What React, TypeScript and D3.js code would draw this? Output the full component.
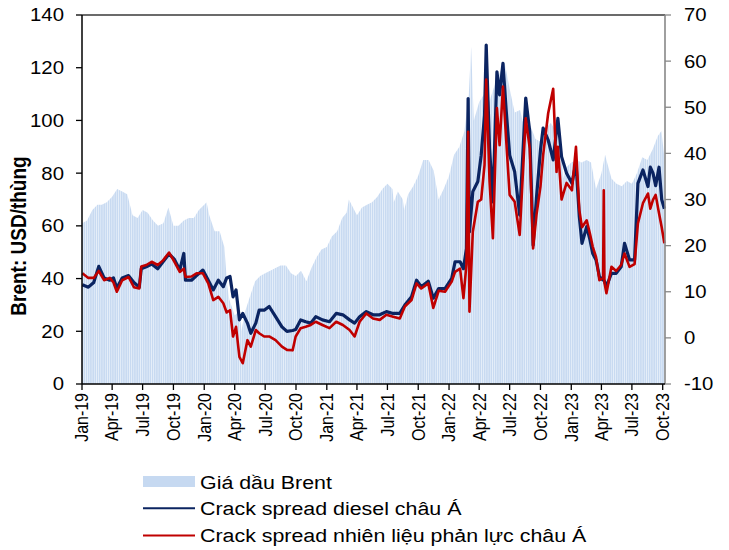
import React from 'react';
import * as d3 from 'd3';

// ---- DATA ----
const brentDates = [
  '2019-01-01','2019-01-16','2019-02-01','2019-02-16','2019-03-01','2019-03-16','2019-04-01','2019-04-16','2019-05-01','2019-05-16','2019-06-01','2019-06-16','2019-07-01','2019-07-16','2019-08-01','2019-08-16','2019-09-01','2019-09-16','2019-10-01','2019-10-16','2019-11-01','2019-11-16','2019-12-01','2019-12-16',
  '2020-01-01','2020-01-08','2020-01-16','2020-02-01','2020-02-16','2020-03-01','2020-03-10','2020-03-16','2020-04-01','2020-04-16','2020-04-21','2020-05-01','2020-05-16','2020-06-01','2020-06-16','2020-07-01','2020-07-16','2020-08-01','2020-08-16','2020-09-01','2020-09-16','2020-10-01','2020-10-16','2020-11-01','2020-11-16','2020-12-01','2020-12-16',
  '2021-01-01','2021-01-16','2021-02-01','2021-02-16','2021-03-01','2021-03-08','2021-03-16','2021-04-01','2021-04-16','2021-05-01','2021-05-16','2021-06-01','2021-06-16','2021-07-01','2021-07-16','2021-07-20','2021-08-01','2021-08-16','2021-08-20','2021-09-01','2021-09-16','2021-10-01','2021-10-16','2021-11-01','2021-11-16','2021-12-01','2021-12-16',
  '2022-01-01','2022-01-16','2022-02-01','2022-02-16','2022-03-01','2022-03-08','2022-03-16','2022-04-01','2022-04-16','2022-05-01','2022-05-16','2022-06-01','2022-06-16','2022-07-01','2022-07-16','2022-08-01','2022-08-16','2022-09-01','2022-09-16','2022-10-01','2022-10-16','2022-11-01','2022-11-16','2022-12-01','2022-12-09','2022-12-16',
  '2023-01-01','2023-01-16','2023-02-01','2023-02-16','2023-03-01','2023-03-16','2023-04-01','2023-04-12','2023-04-16','2023-05-01','2023-05-16','2023-06-01','2023-06-16','2023-07-01','2023-07-16','2023-08-01','2023-08-16','2023-09-01','2023-09-16','2023-09-27','2023-10-06'
];
const brentPrice = [
  61,62,66,68,68,69,71,74,73,72,64,63,66,65,62,60,61,67,60,60,62,63,63,66,
  68,69,64,58,58,52,37,32,26,28,20,27,33,39,41,42,43,44,45,45,42,41,43,39,44,48,51,
  52,56,58,63,65,70,68,64,67,68,69,71,74,76,74,69,73,70,66,72,75,79,85,85,81,70,74,
  79,87,90,96,110,128,100,107,110,107,113,118,122,112,103,104,96,98,93,92,97,99,96,88,78,82,
  84,85,84,85,84,74,80,87,85,78,76,75,77,76,80,86,85,89,94,96,86
];

const spreadDates = [
  '2019-01-02','2019-01-20','2019-02-05','2019-02-20','2019-03-08','2019-03-25','2019-04-05','2019-04-15','2019-05-01','2019-05-20','2019-06-05','2019-06-21','2019-06-27','2019-07-12','2019-07-28','2019-08-15','2019-08-31','2019-09-18','2019-10-04','2019-10-20','2019-11-01','2019-11-06','2019-11-24','2019-12-09','2019-12-28',
  '2020-01-13','2020-01-28','2020-02-12','2020-02-27','2020-03-08','2020-03-18','2020-03-27','2020-04-05','2020-04-15','2020-04-25','2020-05-09','2020-05-19','2020-06-03','2020-06-13','2020-06-28','2020-07-13','2020-08-01','2020-08-20','2020-09-04','2020-09-21','2020-09-30','2020-10-15','2020-10-30','2020-11-14','2020-11-29','2020-12-19',
  '2021-01-09','2021-01-29','2021-02-18','2021-03-10','2021-03-25','2021-04-09','2021-04-29','2021-05-19','2021-06-08','2021-06-28','2021-07-18','2021-08-07','2021-08-22','2021-09-11','2021-09-26','2021-10-10','2021-10-31','2021-11-15','2021-12-01','2021-12-20',
  '2022-01-09','2022-01-19','2022-02-03','2022-02-13','2022-02-22','2022-02-27','2022-03-03','2022-03-13','2022-03-28','2022-04-07','2022-04-17','2022-04-22','2022-05-02','2022-05-12','2022-05-24','2022-06-01','2022-06-11','2022-06-21','2022-07-01','2022-07-16','2022-07-31','2022-08-18','2022-08-30','2022-09-09','2022-09-19','2022-10-01','2022-10-09','2022-10-24','2022-11-08','2022-11-18','2022-11-22','2022-12-03','2022-12-18',
  '2023-01-03','2023-01-15','2023-01-25','2023-02-02','2023-02-16','2023-02-26','2023-03-06','2023-03-16','2023-03-26','2023-04-06','2023-04-08','2023-04-10','2023-04-16','2023-05-01','2023-05-15','2023-05-30','2023-06-09','2023-06-24','2023-07-09','2023-07-19','2023-08-03','2023-08-18','2023-08-25','2023-09-02','2023-09-10','2023-09-20','2023-09-28','2023-10-06'
];
const dieselSpread = [
  11.5,11.0,12.0,15.5,13.0,12.5,13.0,10.8,13.0,13.5,12.0,11.0,15.0,15.4,16.0,15.0,16.5,18.2,17.0,14.7,18.3,12.5,12.5,13.5,14.7,
  12.5,10.4,12.5,11.1,13.0,13.3,8.9,10.4,3.9,5.3,3.2,1.0,3.2,6.0,6.0,6.8,4.6,2.4,1.4,1.6,1.8,3.9,3.5,3.2,4.6,3.9,
  3.5,5.3,5.0,3.9,3.2,4.6,5.7,5.0,5.0,5.7,5.3,5.3,7.1,8.9,12.5,11.1,12.3,8.6,10.7,10.7,
  12.9,16.5,16.5,15.0,19.4,51.9,23.0,31.7,33.9,39.6,48.3,63.5,41.1,29.5,57.7,52.7,59.5,49.0,39.6,36.0,26.6,52.0,44.7,20.1,30.3,40.7,45.5,42.9,38.6,45.0,47.6,39.3,35.7,
  33.5,38.0,26.3,20.5,24.1,21.2,18.3,16.9,13.3,12.5,12.5,12.3,11.1,14.0,14.0,15.4,20.5,16.9,16.9,33.5,36.4,32.8,37.0,35.7,33.0,37.0,30.0,28.0
];
const jetSpread = [
  14.0,13.0,13.0,14.5,12.5,13.0,12.0,10.0,12.5,13.2,11.0,10.7,15.5,15.8,16.5,15.8,16.8,18.5,16.5,14.3,15.0,13.2,13.3,14.0,14.0,
  11.8,8.2,8.9,7.5,5.5,6.0,0.3,2.4,-4.1,-5.5,-0.5,-1.9,1.7,1.0,0.3,0.3,-0.5,-1.9,-2.6,-2.7,0.3,2.1,2.4,2.8,3.5,2.8,
  2.1,3.5,2.8,1.7,0.3,3.5,5.3,4.2,3.9,5.0,4.6,4.2,6.8,8.2,11.8,10.7,11.8,6.5,10.2,10.0,
  12.2,14.3,15.0,8.6,16.0,44.7,5.7,23.0,29.5,30.0,37.5,56.0,33.9,21.6,49.8,41.8,54.5,42.5,31.0,29.5,22.3,47.6,41.1,19.4,26.6,32.8,39.6,48.7,54.0,36.0,41.4,30.0,33.6,
  32.0,41.4,27.7,24.0,25.5,22.5,19.8,17.5,12.5,13.0,32.0,12.0,9.7,15.4,14.5,15.8,18.3,15.4,16.0,24.8,29.2,31.3,28.0,29.9,31.0,27.0,24.0,20.5
];

const xTickLabels = ['Jan-19','Apr-19','Jul-19','Oct-19','Jan-20','Apr-20','Jul-20','Oct-20','Jan-21','Apr-21','Jul-21','Oct-21','Jan-22','Apr-22','Jul-22','Oct-22','Jan-23','Apr-23','Jul-23','Oct-23'];
const leftTicks = [0, 20, 40, 60, 80, 100, 120, 140];
const rightTicks = [-10, 0, 10, 20, 30, 40, 50, 60, 70];
const yAxisTitle = 'Brent: USD/thùng';
const legendLabels = ['Giá dầu Brent', 'Crack spread diesel châu Á', 'Crack spread nhiên liệu phản lực châu Á'];

const FONT = '"Liberation Sans", Arial, sans-serif';
const SX = 1.15;

export default function App() {
  const parse = d3.timeParse('%Y-%m-%d');
  const L = 82, R = 665, T = 15, B = 384;
  const x = d3.scaleTime().domain([parse('2019-01-01')!, parse('2023-10-01')!]).range([L, 662.7]);
  const yL = d3.scaleLinear().domain([0, 140]).range([B, T]);
  const yR = d3.scaleLinear().domain([-10, 70]).range([B, T]);

  const brent = brentDates.map((d, i) => ({ date: parse(d)!, v: brentPrice[i] }));
  const diesel = spreadDates.map((d, i) => ({ date: parse(d)!, v: dieselSpread[i] }));
  const jet = spreadDates.map((d, i) => ({ date: parse(d)!, v: jetSpread[i] }));

  const area = d3.area<{ date: Date; v: number }>().x(d => x(d.date)).y0(yL(0)).y1(d => yL(d.v));
  const line = d3.line<{ date: Date; v: number }>().x(d => x(d.date)).y(d => yR(d.v));

  const tickDates = xTickLabels.map((_, i) => d3.timeMonth.offset(parse('2019-01-01')!, i * 3));

  return (
    <div style={{ position: 'absolute', left: 0, top: 0 }}>
      <svg width={729} height={550} style={{ display: 'block', background: '#fff' }} fontFamily={FONT}>
        <defs>
          <pattern id="stripes" patternUnits="userSpaceOnUse" width={2.2} height={10}>
            <rect x={0} y={0} width={2.2} height={10} fill="#c8daf1" />
            <rect x={1.45} y={0} width={0.75} height={10} fill="#e8f0fa" />
          </pattern>
        </defs>

        <path d={area(brent) || ''} fill="url(#stripes)" />
        <path d={line(diesel) || ''} fill="none" stroke="#0b2461" strokeWidth={3.2} strokeLinejoin="round" />
        <path d={line(jet) || ''} fill="none" stroke="#c00000" strokeWidth={2.6} strokeLinejoin="round" />

        {/* frame */}
        <line x1={L} x2={R} y1={T} y2={T} stroke="#3a3a3a" strokeWidth={1.4} />
        <line x1={R} x2={R} y1={T} y2={B} stroke="#888" strokeWidth={1.6} />
        <line x1={L} x2={L} y1={T} y2={B} stroke="#000" strokeWidth={1.5} />
        <line x1={L} x2={R} y1={B} y2={B} stroke="#000" strokeWidth={1.3} />

        {/* left axis */}
        {leftTicks.map(t => (
          <g key={'l' + t}>
            <line x1={L - 6} x2={L} y1={yL(t)} y2={yL(t)} stroke="#000" strokeWidth={1.3} />
            <text transform={`translate(64,${yL(t)}) scale(${SX},1)`} dy="0.36em" textAnchor="end" fontSize={17.7} fill="#000">{t}</text>
          </g>
        ))}
        {/* right axis */}
        {rightTicks.map(t => (
          <g key={'r' + t}>
            <line x1={R} x2={R + 6} y1={yR(t)} y2={yR(t)} stroke="#888" strokeWidth={1.3} />
            <text transform={`translate(684,${yR(t)}) scale(${SX},1)`} dy="0.36em" textAnchor="start" fontSize={17.7} fill="#000">{t}</text>
          </g>
        ))}
        {/* bottom axis */}
        {tickDates.map((d, i) => (
          <g key={'x' + i}>
            <line x1={x(d)} x2={x(d)} y1={B} y2={B + 6} stroke="#000" strokeWidth={1.3} />
            <text transform={`translate(${x(d)},393) scale(1.1,1) rotate(-90)`} dy="0.36em" textAnchor="end" fontSize={16} fill="#000">{xTickLabels[i]}</text>
          </g>
        ))}

        {/* y axis title */}
        <text transform={`translate(26,236) scale(${SX},1) rotate(-90)`} textAnchor="middle" fontSize={19} fontWeight="bold" fill="#000">{yAxisTitle}</text>

        {/* legend */}
        <rect x={143} y={476} width={52} height={11} fill="#c6d9f1" />
        <line x1={143} x2={195} y1={508.3} y2={508.3} stroke="#0b2461" strokeWidth={2} />
        <line x1={143} x2={195} y1={535.5} y2={535.5} stroke="#c00000" strokeWidth={2} />
        {legendLabels.map((s, i) => (
          <text key={'lg' + i} transform={`translate(200,${488.5 + i * 26.5}) scale(${SX},1)`} fontSize={18.6} fill="#000">{s}</text>
        ))}
      </svg>
    </div>
  );
}
